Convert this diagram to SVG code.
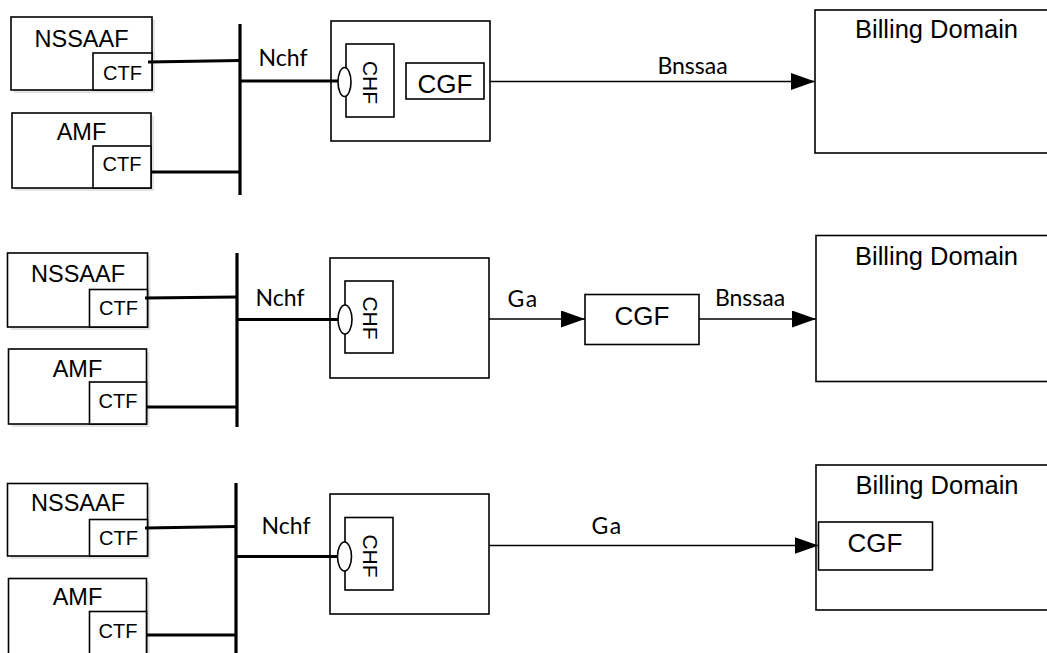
<svg xmlns="http://www.w3.org/2000/svg" width="1047" height="653" viewBox="0 0 1047 653">
<style>
.box{fill:#fff;stroke:#000;stroke-width:1.6}
.shadow{fill:#e3e3e3;stroke:none}
.bus{stroke:#000;stroke-width:3.2;fill:none}
.link{stroke:#000;stroke-width:3;fill:none}
.flow{stroke:#000;stroke-width:1.6;fill:none}
.sans{font-family:"Liberation Sans",Arial,sans-serif;fill:#000}
.lbl{font-family:Lato,"Open Sans",sans-serif;fill:#000;font-size:23px}
.big{font-size:23.5px}
.ctf{font-size:20px}
.chf{font-size:21px}
.cgf{font-size:26px}
.bd{font-size:25.5px}
</style>
<defs>
<marker id="arr" markerUnits="userSpaceOnUse" markerWidth="24" markerHeight="17" viewBox="0 0 24 17" refX="24" refY="8.5" orient="auto">
<path d="M0,0 L24,8.5 L0,17 z" fill="#000"/>
</marker>
</defs>

<!-- ============ Section 1 ============ -->
<g id="s1-nssaaf">
<rect class="shadow" x="14" y="20" width="141" height="73"/>
<rect class="box" x="11" y="17" width="141" height="73"/>
<text class="sans big" x="81.5" y="46.5" text-anchor="middle">NSSAAF</text>
<rect class="box" x="93" y="53" width="59" height="37"/>
<text class="sans ctf" x="122.5" y="80" text-anchor="middle">CTF</text>
</g>
<g id="s1-amf">
<rect class="shadow" x="15" y="116" width="139" height="75"/>
<rect class="box" x="12" y="113" width="139" height="75"/>
<text class="sans big" x="81.5" y="140" text-anchor="middle">AMF</text>
<rect class="box" x="93" y="146" width="58" height="42"/>
<text class="sans ctf" x="122" y="171" text-anchor="middle">CTF</text>
</g>
<g id="s1-chf">
<rect class="box" x="331" y="21" width="159" height="120"/>
<rect class="box" x="346" y="44" width="48" height="73"/>
<ellipse class="box" cx="344.5" cy="82" rx="6.5" ry="14.5"/>
<text class="sans chf" transform="translate(370,82.5) rotate(90)" x="0" y="7.5" text-anchor="middle">CHF</text>
<rect class="box" x="406" y="63" width="78" height="36"/>
<text class="sans cgf" x="445" y="92.5" text-anchor="middle">CGF</text>
</g>
<g id="s1-billing">
<rect class="box" x="815" y="10" width="260" height="143"/>
<text class="sans bd" x="936.5" y="38" text-anchor="middle">Billing Domain</text>
</g>

<!-- ============ Section 2 ============ -->
<g id="s2-nssaaf">
<rect class="shadow" x="10.5" y="256" width="140" height="74"/>
<rect class="box" x="7.5" y="253" width="140" height="74"/>
<text class="sans big" x="78" y="281.5" text-anchor="middle">NSSAAF</text>
<rect class="box" x="89.5" y="289.5" width="58" height="37.5"/>
<text class="sans ctf" x="118.5" y="315" text-anchor="middle">CTF</text>
</g>
<g id="s2-amf">
<rect class="shadow" x="11.5" y="352" width="138" height="75"/>
<rect class="box" x="8.5" y="349" width="138" height="75"/>
<text class="sans big" x="77.5" y="376.5" text-anchor="middle">AMF</text>
<rect class="box" x="89.5" y="382" width="57" height="42"/>
<text class="sans ctf" x="118" y="408" text-anchor="middle">CTF</text>
</g>
<g id="s2-chf">
<rect class="box" x="330" y="258" width="159" height="120"/>
<rect class="box" x="345" y="281" width="48" height="72"/>
<ellipse class="box" cx="345" cy="319.5" rx="7" ry="14.5"/>
<text class="sans chf" transform="translate(370,318) rotate(90)" x="0" y="7.5" text-anchor="middle">CHF</text>
</g>
<g id="s2-cgf">
<rect class="box" x="585" y="294.5" width="114" height="50"/>
<text class="sans cgf" x="642" y="325" text-anchor="middle">CGF</text>
</g>
<g id="s2-billing">
<rect class="box" x="816" y="235.5" width="260" height="146"/>
<text class="sans bd" x="936.5" y="265" text-anchor="middle">Billing Domain</text>
</g>

<!-- ============ Section 3 ============ -->
<g id="s3-nssaaf">
<rect class="shadow" x="10.5" y="486.5" width="140" height="72.5"/>
<rect class="box" x="7.5" y="483.5" width="140" height="72.5"/>
<text class="sans big" x="78" y="510.5" text-anchor="middle">NSSAAF</text>
<rect class="box" x="89.5" y="519.5" width="58" height="36.5"/>
<text class="sans ctf" x="118.5" y="545" text-anchor="middle">CTF</text>
</g>
<g id="s3-amf">
<rect class="shadow" x="11.5" y="581.5" width="138" height="90"/>
<rect class="box" x="8.5" y="578.5" width="138" height="90"/>
<text class="sans big" x="77.5" y="605" text-anchor="middle">AMF</text>
<rect class="box" x="89.5" y="611.5" width="57" height="57"/>
<text class="sans ctf" x="118" y="637.5" text-anchor="middle">CTF</text>
</g>
<g id="s3-chf">
<rect class="box" x="330" y="494" width="159" height="120"/>
<rect class="box" x="345" y="517.5" width="48" height="72.5"/>
<ellipse class="box" cx="344.5" cy="556.5" rx="7" ry="14.5"/>
<text class="sans chf" transform="translate(370,556) rotate(90)" x="0" y="7.5" text-anchor="middle">CHF</text>
</g>
<g id="s3-billing">
<rect class="box" x="816" y="465" width="260" height="145"/>
<text class="sans bd" x="937" y="494.3" text-anchor="middle">Billing Domain</text>
<rect class="box" x="818.5" y="522" width="114" height="48"/>
<text class="sans cgf" x="875" y="552" text-anchor="middle">CGF</text>
</g>

<!-- ============ Connectors ============ -->
<g id="connectors">
<!-- section 1 -->
<line class="bus" x1="240" y1="24" x2="240" y2="195"/>
<line class="link" x1="148" y1="62" x2="240" y2="60.5"/>
<line class="link" x1="151" y1="172" x2="240" y2="172"/>
<line class="link" x1="240" y1="81" x2="338" y2="81"/>
<line class="flow" x1="490" y1="81.5" x2="815" y2="81.5" marker-end="url(#arr)"/>
<!-- section 2 -->
<line class="bus" x1="237" y1="253" x2="237" y2="427"/>
<line class="link" x1="145" y1="298" x2="237" y2="297"/>
<line class="link" x1="147" y1="407" x2="237" y2="407"/>
<line class="link" x1="237" y1="319.5" x2="338" y2="319.5"/>
<line class="flow" x1="489" y1="319" x2="585" y2="319" marker-end="url(#arr)"/>
<line class="flow" x1="699" y1="319" x2="816" y2="319" marker-end="url(#arr)"/>
<!-- section 3 -->
<line class="bus" x1="236" y1="483" x2="236" y2="660"/>
<line class="link" x1="145" y1="528" x2="236" y2="526.5"/>
<line class="link" x1="147" y1="635" x2="236" y2="635"/>
<line class="link" x1="236" y1="556.5" x2="337.5" y2="556.5"/>
<line class="flow" x1="489" y1="545.5" x2="818.5" y2="545.5" marker-end="url(#arr)"/>
<!-- labels -->
<text class="lbl" x="283" y="66" text-anchor="middle">Nchf</text>
<text class="lbl" x="692.5" y="74" text-anchor="middle">Bnssaa</text>
<text class="lbl" x="280" y="306" text-anchor="middle">Nchf</text>
<text class="lbl" x="523" y="307" text-anchor="middle" letter-spacing="1.5">Ga</text>
<text class="lbl" x="750" y="305.5" text-anchor="middle">Bnssaa</text>
<text class="lbl" x="286" y="534" text-anchor="middle">Nchf</text>
<text class="lbl" x="607" y="534" text-anchor="middle" letter-spacing="1.5">Ga</text>
</g>
</svg>
